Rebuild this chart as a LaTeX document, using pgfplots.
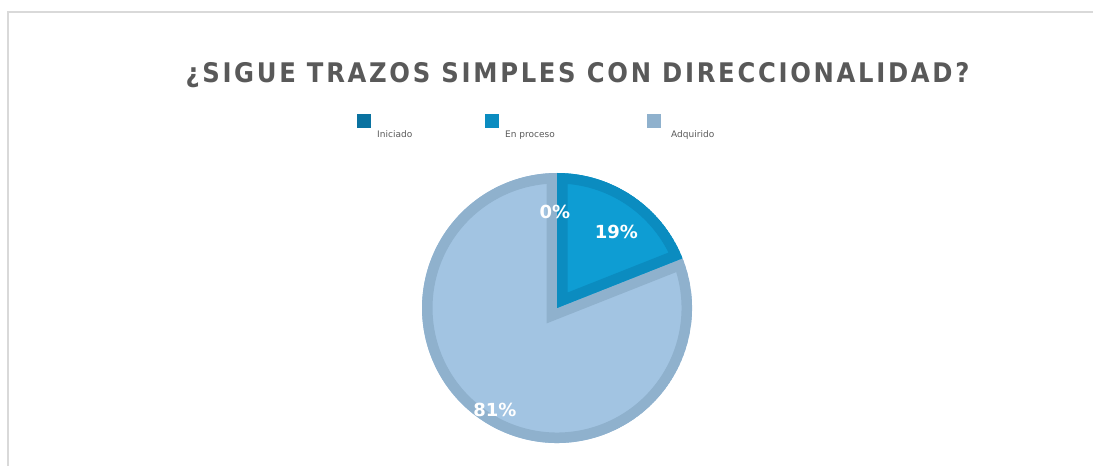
\documentclass[border=0pt]{standalone}
\usepackage{pgfplots}
\pgfplotsset{compat=1.18}
\usepackage{pgfplotstable}
\usepackage{fontspec}
\setmainfont{DejaVu Sans}
\newfontfamily\titlefont[LetterSpace=10]{DejaVu Sans Condensed Bold}
\definecolor{titlegray}{HTML}{595959}
\definecolor{frame}{HTML}{D9D9D9}
\definecolor{cAfill}{HTML}{0B7DB0}
\definecolor{cA}{HTML}{0A72A0}
\definecolor{cBfill}{HTML}{0E9DD3}
\definecolor{cB}{HTML}{0B8CC0}
\definecolor{cCfill}{HTML}{A2C4E2}
\definecolor{cC}{HTML}{8FB1CD}

% value in percent; lx, ly = label position in pie radii
\pgfplotstableread{
label        value  lx      ly
Iniciado     0      -0.015  0.71
{En proceso} 19     0.44    0.56
Adquirido    81     -0.46   -0.755
}\piedata

\pgfplotstablegetelem{0}{value}\of\piedata \edef\vA{\pgfplotsretval}
\pgfplotstablegetelem{1}{value}\of\piedata \edef\vB{\pgfplotsretval}
\pgfplotstablegetelem{2}{value}\of\piedata \edef\vC{\pgfplotsretval}
\pgfplotstablegetelem{0}{lx}\of\piedata \edef\lxA{\pgfplotsretval}
\pgfplotstablegetelem{1}{lx}\of\piedata \edef\lxB{\pgfplotsretval}
\pgfplotstablegetelem{2}{lx}\of\piedata \edef\lxC{\pgfplotsretval}
\pgfplotstablegetelem{0}{ly}\of\piedata \edef\lyA{\pgfplotsretval}
\pgfplotstablegetelem{1}{ly}\of\piedata \edef\lyB{\pgfplotsretval}
\pgfplotstablegetelem{2}{ly}\of\piedata \edef\lyC{\pgfplotsretval}
\pgfplotstablegetelem{0}{label}\of\piedata \edef\nA{\pgfplotsretval}
\pgfplotstablegetelem{1}{label}\of\piedata \edef\nB{\pgfplotsretval}
\pgfplotstablegetelem{2}{label}\of\piedata \edef\nC{\pgfplotsretval}

\pgfmathsetmacro\aO{90}
\pgfmathsetmacro\aA{\aO-3.6*\vA}
\pgfmathsetmacro\aB{\aA-3.6*\vB}
\pgfmathsetmacro\aC{\aB-3.6*\vC}
\pgfmathsetmacro\xA{cos(\aA)}\pgfmathsetmacro\yA{sin(\aA)}
\pgfmathsetmacro\xB{cos(\aB)}\pgfmathsetmacro\yB{sin(\aB)}

% #1 start angle, #2 end angle, #3 x of start, #4 y of start, #5 fill, #6 border
\newcommand\pieslice[6]{%
  \begin{scope}
    \clip (axis cs:0,0) -- (axis cs:#3,#4) arc[start angle=#1,end angle=#2,radius=135pt] -- cycle;
    \fill[#5] (axis cs:0,0) -- (axis cs:#3,#4) arc[start angle=#1,end angle=#2,radius=135pt] -- cycle;
    \draw[#6,line width=21pt,line join=miter] (axis cs:0,0) -- (axis cs:#3,#4) arc[start angle=#1,end angle=#2,radius=135pt] -- cycle;
  \end{scope}}

\begin{document}
\begin{tikzpicture}
\path[use as bounding box] (0,0) rectangle (1093pt,466pt);
\begin{scope}
  \clip (0,0) rectangle (1093pt,466pt);
  \draw[frame,line width=1.2pt] (8pt,-20pt) -- (8pt,454pt) -- (1200pt,454pt);
\end{scope}

\node[anchor=base,text=titlegray,inner sep=0pt] at (577.5pt,383pt)
  {\titlefont\fontsize{27}{27}\selectfont ¿SIGUE TRAZOS SIMPLES CON DIRECCIONALIDAD?};

% legend
\fill[cA] (357pt,338pt) rectangle (371pt,352pt);
\fill[cB] (485pt,338pt) rectangle (499pt,352pt);
\fill[cC] (647pt,338pt) rectangle (661pt,352pt);
\begin{scope}[every node/.style={anchor=base west,inner sep=0pt,text=titlegray,font=\fontsize{9}{9}\selectfont}]
\node at (377pt,328pt) {\nA};
\node at (505pt,328pt) {\nB};
\node at (671pt,328pt) {\nC};
\end{scope}

\begin{axis}[at={(557pt,158pt)},anchor=origin,x=135pt,y=135pt,
  xmin=-1,xmax=1,ymin=-1,ymax=1,hide axis,clip=false]
  \pieslice{\aB}{\aC}{\xB}{\yB}{cCfill}{cC}
  \pieslice{\aA}{\aB}{\xA}{\yA}{cBfill}{cB}
  \begin{scope}[every node/.style={text=white,font=\bfseries\fontsize{18}{18}\selectfont,inner sep=0pt}]
  \node at (axis cs:\lxA,\lyA) {\vA\%};
  \node at (axis cs:\lxB,\lyB) {\vB\%};
  \node at (axis cs:\lxC,\lyC) {\vC\%};
  \end{scope}
\end{axis}
\end{tikzpicture}
\end{document}
